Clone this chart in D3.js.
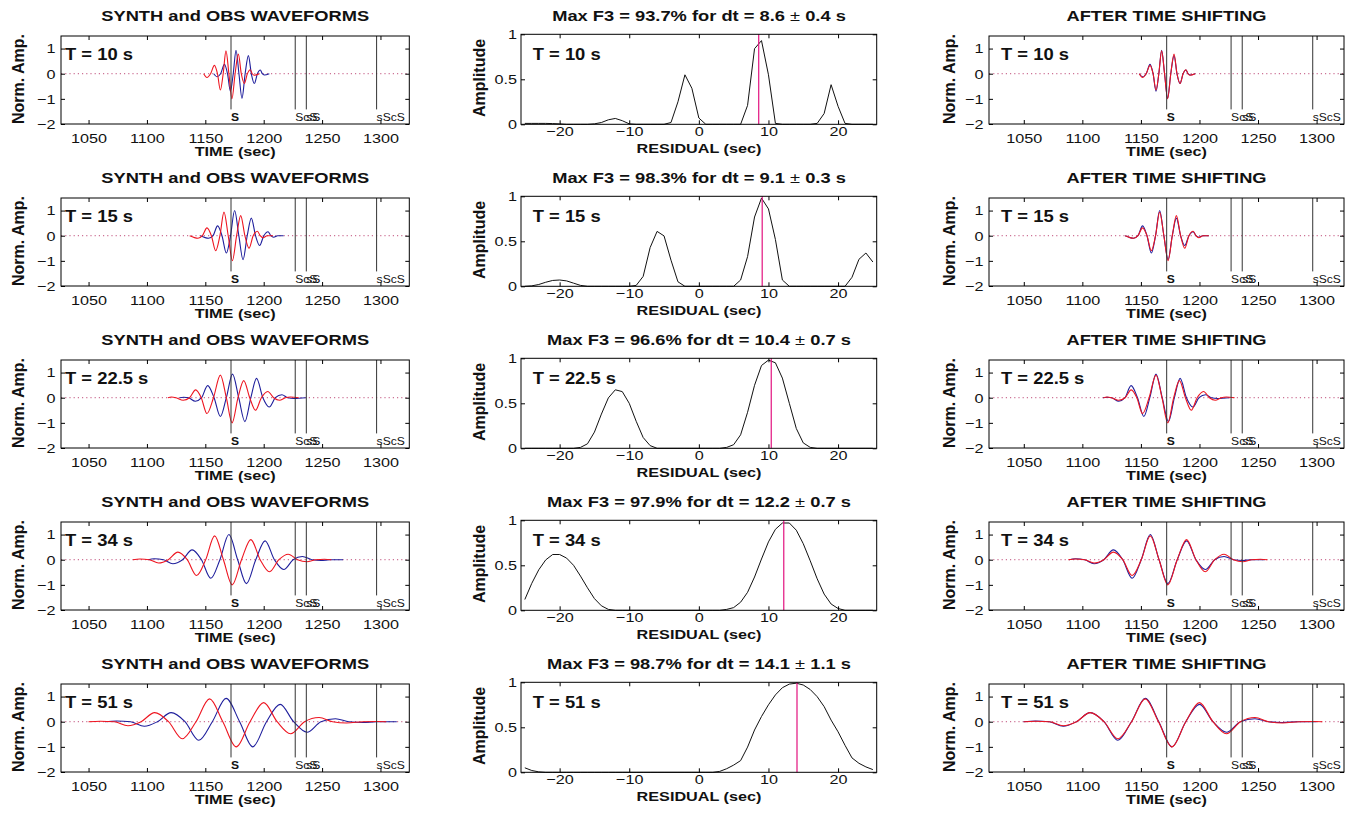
<!DOCTYPE html>
<html><head><meta charset="utf-8">
<script src="https://cdn.jsdelivr.net/npm/d3@7"></script>
<style>
body{margin:0;background:#fff}
svg{display:block}
text{font-family:"Liberation Sans",Arial,Helvetica,sans-serif;fill:#111}
</style></head>
<body><svg id="chart" width="1359" height="816"></svg>
<script>
// ---------------- data ----------------
const periodLabels = ["T = 10 s","T = 15 s","T = 22.5 s","T = 34 s","T = 51 s"];
const f3Values = ["93.7","98.3","96.6","97.9","98.7"];
const dtValues = [8.6, 9.1, 10.4, 12.2, 14.1];
const dtErrors = ["0.4","0.3","0.7","0.7","1.1"];
const phaseNames = ["S","ScS","sS","sScS"];
const phaseTimes = [1172, 1227, 1236.5, 1296.7];
const timeTicks = [1050,1100,1150,1200,1250,1300];
const ampTicks = [-2,-1,0,1];
const residualTicks = [-20,-10,0,10,20];
const ccfTicks = [0,0.5,1];
const residuals = [-25,-24,-23,-22,-21,-20,-19,-18,-17,-16,-15,-14,-13,-12,-11,-10,-9,-8,-7,-6,-5,-4,-3,-2,-1,0,1,2,3,4,5,6,7,8,9,10,11,12,13,14,15,16,17,18,19,20,21,22,23,24,25];

// cross-correlation amplitude per residual (rows T=10,15,22.5,34,51)
const ccf1 = [0.01,0.01,0.01,0.01,0.008,0.005,0,0,0,0,0.005,0.02,0.05,0.065,0.04,0.005,0,0,0,0,0,0.02,0.25,0.55,0.4,0.07,0,0,0,0,0,0,0.21,0.84,0.93,0.55,0.01,0,0,0,0,0,0.01,0.12,0.44,0.2,0.01,0,0,0,0];
const ccf2 = [0,0.005,0.02,0.045,0.065,0.07,0.06,0.035,0.01,0,0,0,0,0,0,0,0.01,0.11,0.43,0.61,0.56,0.29,0.05,0,0,0,0,0,0,0,0,0.07,0.33,0.77,0.98,0.86,0.52,0.07,0,0,0,0,0,0,0,0,0,0.1,0.3,0.37,0.27];
const ccf3 = [0,0,0,0,0,0,0,0,0.01,0.05,0.18,0.38,0.56,0.65,0.63,0.5,0.3,0.12,0.03,0,0,0,0,0,0,0,0,0,0,0.01,0.04,0.15,0.4,0.7,0.92,0.98,0.95,0.78,0.5,0.22,0.06,0.01,0,0,0,0,0,0,0,0,0];
const ccf4 = [0.12,0.3,0.45,0.56,0.62,0.62,0.58,0.5,0.38,0.25,0.13,0.05,0.01,0,0,0,0,0,0,0,0,0,0,0,0,0,0,0,0,0.01,0.03,0.09,0.2,0.37,0.57,0.76,0.9,0.97,0.97,0.89,0.74,0.55,0.35,0.18,0.07,0.02,0,0,0,0,0];
const ccf5 = [0.05,0.02,0.005,0,0,0,0,0,0,0,0,0,0,0,0,0,0,0,0,0,0,0,0,0,0,0,0,0,0.01,0.04,0.08,0.13,0.28,0.47,0.62,0.75,0.86,0.94,0.98,0.99,0.97,0.92,0.84,0.73,0.58,0.45,0.3,0.16,0.1,0.06,0.03];

// waveforms: [time (s), normalized amplitude] at extrema / zero crossings
const red1 = [[1148.6,0],[1151.4,-0.15],[1154.5,0],[1157.8,0.33],[1160.4,0],[1162.9,-0.65],[1165.3,0],[1167.7,0.91],[1170.2,0],[1172.8,-1.0],[1175.5,0],[1178.3,0.78],[1180.8,0],[1183.4,-0.39],[1186,0],[1188.5,0.16],[1190.2,0],[1191.9,-0.06],[1196.2,0]];
const blue1 = [[1157.2,0],[1160,-0.12],[1163.1,0],[1166.4,0.37],[1169,0],[1171.5,-0.7],[1173.9,0],[1176.3,0.93],[1178.8,0],[1181.4,-0.98],[1184.1,0],[1186.9,0.72],[1189.4,0],[1192,-0.39],[1194.6,0],[1197.1,0.15],[1198.8,0],[1200.5,-0.05],[1204.8,0]];
const red2 = [[1136.6,0],[1143.7,-0.1],[1147.5,0],[1151.4,0.31],[1155.2,0],[1158.9,-0.6],[1162.5,0],[1166,0.94],[1169.6,0],[1173.2,-0.99],[1176.8,0],[1180.3,0.8],[1183.9,0],[1187.4,-0.5],[1191,0],[1194.6,0.18],[1197,0],[1199.4,-0.08],[1203,0],[1208,0]];
const blue2 = [[1145.7,0],[1152.8,-0.1],[1156.6,0],[1160.5,0.39],[1164.3,0],[1168,-0.69],[1171.6,0],[1175.1,1.0],[1178.7,0],[1182.3,-0.95],[1185.9,0],[1189.4,0.7],[1193,0],[1196.5,-0.39],[1200.1,0],[1203.7,0.16],[1206.1,0],[1208.5,-0.06],[1212,0],[1217,0]];
const red3 = [[1118,0],[1121,0.03],[1125,0],[1131,-0.1],[1136.5,0],[1141.7,0.31],[1146.5,0],[1151.4,-0.63],[1157,0],[1162.9,0.9],[1168,0],[1172.9,-1.0],[1178,0],[1182.9,0.68],[1188,0],[1193,-0.5],[1198,0],[1203.5,0.25],[1208.5,0],[1213.5,-0.1],[1218.5,0],[1223,0.03],[1230,0]];
const blue3 = [[1128,0],[1131.5,0.02],[1135.5,0],[1141.5,-0.14],[1146.8,0],[1152,0.48],[1157.5,0],[1162.9,-0.75],[1168,0],[1173.3,0.94],[1178.6,0],[1183.9,-0.95],[1189,0],[1193.9,0.77],[1199.3,0],[1204.7,-0.37],[1210,0],[1215.6,0.12],[1220.5,0],[1226,-0.03],[1236,0]];
const red4 = [[1088,0],[1094,0.03],[1102,0],[1110,-0.13],[1118.3,0],[1126.5,0.3],[1134.5,0],[1142.5,-0.63],[1150.3,0],[1158,0.95],[1165.5,0],[1173,-1.0],[1181,0],[1189,0.8],[1197,0],[1205,-0.48],[1213,0],[1221,0.22],[1229,0],[1237,-0.08],[1244.5,0],[1252,0.02],[1258,0]];
const blue4 = [[1101,0],[1106.2,0.04],[1114.2,0],[1122.2,-0.16],[1130.5,0],[1138.7,0.39],[1146.7,0],[1154.7,-0.74],[1162.5,0],[1170.2,1.0],[1177.7,0],[1185.2,-0.95],[1193.2,0],[1201.2,0.75],[1209.2,0],[1217.2,-0.39],[1225.2,0],[1233.2,0.13],[1241.2,0],[1249.2,-0.03],[1256.7,0],[1268,0]];
const red5 = [[1050,0],[1060,0.02],[1072,0],[1083.7,-0.16],[1095,0],[1106.6,0.36],[1118.5,0],[1130.3,-0.68],[1142,0],[1153.7,0.91],[1165,0],[1176.5,-1.0],[1188.3,0],[1200,0.76],[1211.5,0],[1223,-0.48],[1235,0],[1247.4,0.17],[1259,0],[1271,-0.05],[1285,0],[1297,0.01],[1305,0]];
const blue5 = [[1064,0],[1074,0.03],[1086,0],[1097.8,-0.18],[1109,0],[1120.7,0.36],[1132.6,0],[1144.4,-0.74],[1156,0],[1167.8,0.93],[1179.4,0],[1190.6,-1.0],[1202.4,0],[1214.1,0.69],[1225.6,0],[1237.1,-0.42],[1249,0],[1261.5,0.12],[1273,0],[1285,-0.03],[1297,0],[1314,0]];

const ccfRows = [ccf1, ccf2, ccf3, ccf4, ccf5];
const redRows = [red1, red2, red3, red4, red5];
const blueRows = [blue1, blue2, blue3, blue4, blue5];

// ---------------- layout ----------------
const svg = d3.select("#chart");
const ROW = 162;
const SX = 1.2;
const RED = "#ee1520", BLUE = "#1e1e9c", MAG = "#e2127f";

const xLeft = d3.scaleLinear([1026.4, 1324.7], [61, 409.3]);
const xRight = d3.scaleLinear([1020.3, 1323.4], [989, 1344]);
const xMid = d3.scaleLinear([-25.55, 25.55], [521, 876.7]);

function txt(g, x, y, s, o = {}) {
  const t = g.append("text")
    .attr("transform", o.rotate ? `translate(${x},${y}) rotate(-90)` : `translate(${x},${y}) scale(${o.sx ?? SX},1)`)
    .attr("text-anchor", o.anchor || "start")
    .attr("font-size", o.size || 13.5)
    .attr("font-weight", o.weight || "normal");
  if (s !== null) t.text(s);
  return t;
}

function axes(g, x, y, xt, yt, xpad, ypad, fmt) {
  const [x0, x1] = x.range(), [yb, yt0] = y.range();
  const styl = sel => {
    sel.select(".domain").remove();
    sel.selectAll(".tick line").attr("stroke", "#000");
    sel.selectAll(".tick text").attr("transform", `scale(${SX},1)`).attr("font-size", 13.5)
      .attr("font-family", '"Liberation Sans",Arial,sans-serif').attr("fill", "#111");
  };
  g.append("g").attr("transform", `translate(0,${yb})`)
    .call(d3.axisBottom(x).tickValues(xt).tickSize(-4).tickPadding(xpad).tickFormat(d3.format(""))).call(styl);
  g.append("g").attr("transform", `translate(0,${yt0})`)
    .call(d3.axisTop(x).tickValues(xt).tickSize(-4).tickFormat("")).call(styl);
  g.append("g").attr("transform", `translate(${x0},0)`)
    .call(d3.axisLeft(y).tickValues(yt).tickSize(-4).tickPadding(ypad).tickFormat(fmt)).call(styl);
  g.append("g").attr("transform", `translate(${x1},0)`)
    .call(d3.axisRight(y).tickValues(yt).tickSize(-4).tickFormat("")).call(styl);
  g.append("rect").attr("x", x0).attr("y", yt0).attr("width", x1 - x0).attr("height", yb - yt0)
    .attr("fill", "none").attr("stroke", "#000").attr("stroke-width", 1);
}

function wavePanel(g, x, y, red, blue, o) {
  const [x0, x1] = x.range();
  g.append("line").attr("x1", x0).attr("x2", x1).attr("y1", y(0)).attr("y2", y(0))
    .attr("stroke", "#c0507c").attr("stroke-width", 1).attr("stroke-dasharray", "1.2,3");
  const line = d3.line().x(d => x(d[0])).y(d => y(d[1])).curve(d3.curveMonotoneX);
  g.append("path").attr("d", line(blue)).attr("fill", "none").attr("stroke", BLUE).attr("stroke-width", 1.1);
  g.append("path").attr("d", line(red)).attr("fill", "none").attr("stroke", RED).attr("stroke-width", 1.1);
  phaseTimes.forEach((t, i) => {
    g.append("line").attr("x1", x(t)).attr("x2", x(t)).attr("y1", y(1.5)).attr("y2", y(-1.42))
      .attr("stroke", "#333").attr("stroke-width", 1);
    txt(g, x(t), 120.7 + o, phaseNames[i], { size: 10.5, sx: 1.15, weight: i === 0 ? "bold" : "normal" });
  });
  axes(g, x, y, timeTicks, ampTicks, 9, 4.5, d3.format(""));
}

for (let r = 0; r < 5; r++) {
  const o = r * ROW;
  const g = svg.append("g");
  const yW = d3.scaleLinear([-2, 1.5], [124 + o, 36 + o]);
  const yC = d3.scaleLinear([0, 1], [124.3 + o, 34.3 + o]);

  // ---- left: synth and obs ----
  wavePanel(g, xLeft, yW, redRows[r], blueRows[r], o);
  txt(g, 235.2, 20.7 + o, "SYNTH and OBS WAVEFORMS", { size: 15, weight: "bold", anchor: "middle", sx: 1.22 });
  txt(g, 235.2, 156 + o, "TIME (sec)", { size: 13.5, weight: "bold", anchor: "middle" });
  txt(g, 23.5, 79 + o, "Norm. Amp.", { size: 16, weight: "bold", anchor: "middle", rotate: true });
  txt(g, 65, 60 + o, periodLabels[r], { size: 16, weight: "bold", sx: 1.15 });

  // ---- right: after time shifting (observed shifted back by dt) ----
  const shifted = blueRows[r].map(d => [d[0] - dtValues[r], d[1]]);
  wavePanel(g, xRight, yW, redRows[r], shifted, o);
  txt(g, 1166.5, 20.7 + o, "AFTER TIME SHIFTING", { size: 15, weight: "bold", anchor: "middle", sx: 1.22 });
  txt(g, 1166.5, 156 + o, "TIME (sec)", { size: 13.5, weight: "bold", anchor: "middle" });
  txt(g, 955, 79 + o, "Norm. Amp.", { size: 16, weight: "bold", anchor: "middle", rotate: true });
  txt(g, 1001, 60 + o, periodLabels[r], { size: 16, weight: "bold", sx: 1.15 });

  // ---- middle: cross-correlation ----
  const line = d3.line().x((d, i) => xMid(residuals[i])).y(d => yC(d));
  g.append("path").attr("d", line(ccfRows[r])).attr("fill", "none").attr("stroke", "#111").attr("stroke-width", 1);
  g.append("line").attr("x1", xMid(dtValues[r])).attr("x2", xMid(dtValues[r]))
    .attr("y1", yC(0)).attr("y2", yC(1)).attr("stroke", MAG).attr("stroke-width", 1.2);
  axes(g, xMid, yC, residualTicks, ccfTicks, 2, 3.3, d3.format(""));
  const tt = txt(g, 699, 20.7 + o, null, { size: 15, weight: "bold", anchor: "middle", sx: 1.22 });
  tt.append("tspan").text(`Max F3 = ${f3Values[r]}% for dt = ${dtValues[r].toFixed(1)} `);
  tt.append("tspan").attr("font-weight", "normal").text("\u00b1");
  tt.append("tspan").text(` ${dtErrors[r]} s`);
  txt(g, 699, 152.5 + o, "RESIDUAL (sec)", { size: 13.5, weight: "bold", anchor: "middle" });
  txt(g, 485, 78 + o, "Amplitude", { size: 16, weight: "bold", anchor: "middle", rotate: true });
  txt(g, 532.7, 60 + o, periodLabels[r], { size: 16, weight: "bold", sx: 1.15 });
}
</script>
</body></html>
